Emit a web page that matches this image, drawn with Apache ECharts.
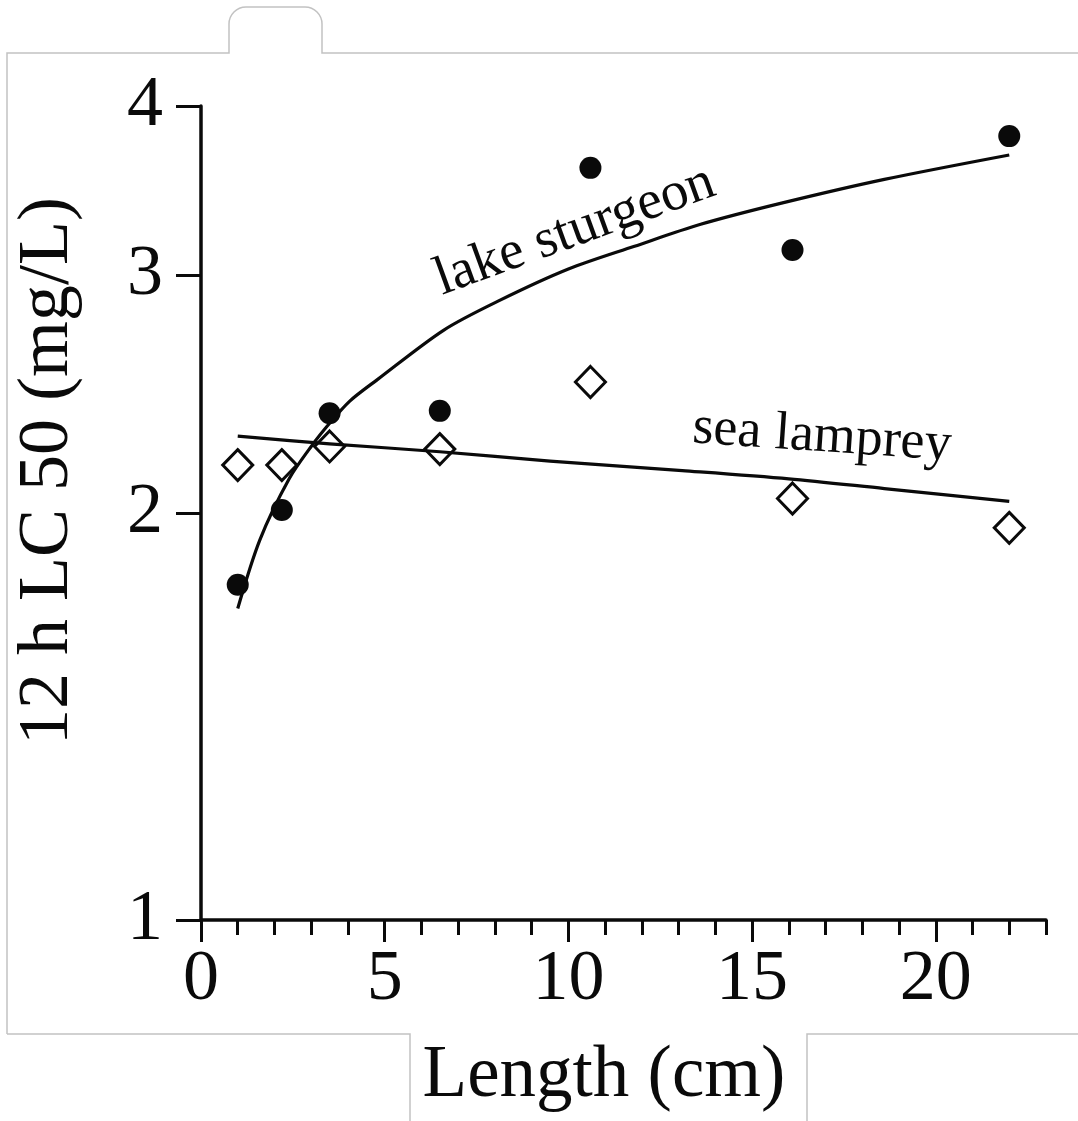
<!DOCTYPE html>
<html>
<head>
<meta charset="utf-8">
<script src="https://cdn.jsdelivr.net/npm/echarts@6/dist/echarts.min.js"></script>
<style>
html,body{margin:0;padding:0;background:#fff;}
#chart{width:1078px;height:1121px;}
</style>
</head>
<body>
<div id="chart"></div>
<script>
// ---- data ----
var sturgeonX = [1.0, 2.2, 3.5, 6.5, 10.6, 16.1, 22.0];
var sturgeonY = [1.77, 2.01, 2.37, 2.38, 3.60, 3.13, 3.80];
var lampreyX = [1.0, 2.2, 3.5, 6.5, 10.6, 16.1, 22.0];
var lampreyY = [2.17, 2.17, 2.24, 2.23, 2.50, 2.05, 1.95];
// fitted curves
var sturgeonFitX = [1.0, 1.6, 2.4, 3.0, 3.5, 4.05, 4.8, 6.6, 8.1, 10.0, 11.8, 13.6, 15.8, 18.6, 22.0];
var sturgeonFitY = [1.70, 1.91, 2.12, 2.24, 2.33, 2.42, 2.51, 2.73, 2.87, 3.03, 3.15, 3.27, 3.39, 3.53, 3.68];
var lampreyFitX = [1.0, 3.5, 6.5, 9.5, 13.1, 16.0, 18.6, 22.0];
var lampreyFitY = [2.28, 2.25, 2.22, 2.185, 2.15, 2.12, 2.085, 2.04];
// ticks
var xMajorTicks = [0, 5, 10, 15, 20];
var xMinorTicks = [1, 2, 3, 4, 6, 7, 8, 9, 11, 12, 13, 14, 16, 17, 18, 19, 21, 22, 23];
var yTicks = [1, 2, 3, 4];
var xTitle = 'Length (cm)';
var yTitle = '12 h LC 50 (mg/L)';
var sturgeonLabel = 'lake sturgeon';
var lampreyLabel = 'sea lamprey';

function zip(a, b) { return a.map(function (v, i) { return [v, b[i]]; }); }

var FONT = '"Liberation Serif", "Times New Roman", serif';
var INK = '#0a0a0a';
var FRAME = '#c2c2c2';
var frameStyle = {fill: null, stroke: FRAME, lineWidth: 1.5};

var chart = echarts.init(document.getElementById('chart'), null, {renderer: 'canvas'});
chart.setOption({
  animation: false,
  backgroundColor: '#ffffff',
  grid: {left: 201, top: 106, width: 845, height: 814, containLabel: false, outerBoundsMode: 'none'},
  xAxis: [{
    type: 'value', min: 0, max: 23, position: 'bottom',
    axisLine: {show: true, lineStyle: {color: INK, width: 3.5}},
    axisTick: {show: true, inside: false, length: 22, customValues: xMajorTicks, lineStyle: {color: INK, width: 3}},
    axisLabel: {show: true, customValues: xMajorTicks, margin: 24, fontSize: 72, fontFamily: FONT, color: INK},
    splitLine: {show: false}
  }, {
    type: 'value', min: 0, max: 23, position: 'bottom',
    axisLine: {show: false},
    axisTick: {show: true, inside: false, length: 15, customValues: xMinorTicks, lineStyle: {color: INK, width: 3}},
    axisLabel: {show: false},
    splitLine: {show: false}
  }],
  yAxis: {
    type: 'log', logBase: 10, min: 1, max: 4,
    axisLine: {show: true, lineStyle: {color: INK, width: 3.5}},
    axisTick: {show: true, inside: false, length: 25, customValues: yTicks, lineStyle: {color: INK, width: 3}},
    axisLabel: {show: true, customValues: yTicks, margin: 38, fontSize: 72, fontFamily: FONT, color: INK},
    minorTick: {show: false},
    splitLine: {show: false}
  },
  series: [{
    name: 'lake sturgeon fit', type: 'line', data: zip(sturgeonFitX, sturgeonFitY),
    showSymbol: false, smooth: 0.3,
    lineStyle: {color: INK, width: 3.2, join: 'round'}, z: 2
  }, {
    name: 'sea lamprey fit', type: 'line', data: zip(lampreyFitX, lampreyFitY),
    showSymbol: false, smooth: 0.3,
    lineStyle: {color: INK, width: 3.2, join: 'round'}, z: 2
  }, {
    name: 'lake sturgeon', type: 'scatter', data: zip(sturgeonX, sturgeonY),
    symbol: 'circle', symbolSize: 22,
    itemStyle: {color: INK, opacity: 1}, z: 3
  }, {
    name: 'sea lamprey', type: 'scatter', data: zip(lampreyX, lampreyY),
    symbol: 'diamond', symbolSize: [30, 31],
    itemStyle: {color: 'rgba(255,255,255,0)', borderColor: INK, borderWidth: 3, opacity: 1}, z: 3
  }],
  graphic: [
    {type: 'polyline', silent: true, z: 0, shape: {points: [[7, 1034], [7, 53], [229, 53], [229, 24]]}, style: frameStyle},
    {type: 'arc', silent: true, z: 0, shape: {cx: 246, cy: 24, r: 17, startAngle: Math.PI, endAngle: Math.PI * 1.5}, style: frameStyle},
    {type: 'line', silent: true, z: 0, shape: {x1: 246, y1: 7, x2: 305, y2: 7}, style: frameStyle},
    {type: 'arc', silent: true, z: 0, shape: {cx: 305, cy: 24, r: 17, startAngle: Math.PI * 1.5, endAngle: Math.PI * 2}, style: frameStyle},
    {type: 'polyline', silent: true, z: 0, shape: {points: [[322, 24], [322, 53], [1078, 53]]}, style: frameStyle},
    {type: 'polyline', silent: true, z: 0, shape: {points: [[7, 1034], [410, 1034], [410, 1121]]}, style: frameStyle},
    {type: 'polyline', silent: true, z: 0, shape: {points: [[807, 1121], [807, 1034], [1078, 1034]]}, style: frameStyle},
    {type: 'text', x: 48, y: 471, rotation: Math.PI / 2, silent: true,
     style: {text: yTitle, fontSize: 72, fontFamily: FONT, fill: INK, align: 'center', verticalAlign: 'middle'}},
    {type: 'text', x: 604, y: 1077, silent: true,
     style: {text: xTitle, fontSize: 73, fontFamily: FONT, fill: INK, align: 'center', verticalAlign: 'middle'}},
    {type: 'text', x: 575, y: 231, rotation: 20 * Math.PI / 180, silent: true,
     style: {text: sturgeonLabel, fontSize: 55, fontFamily: FONT, fill: INK, align: 'center', verticalAlign: 'middle'}},
    {type: 'text', x: 822, y: 437, rotation: -3.9 * Math.PI / 180, silent: true,
     style: {text: lampreyLabel, fontSize: 54, fontFamily: FONT, fill: INK, align: 'center', verticalAlign: 'middle'}}
  ]
});
</script>
</body>
</html>
